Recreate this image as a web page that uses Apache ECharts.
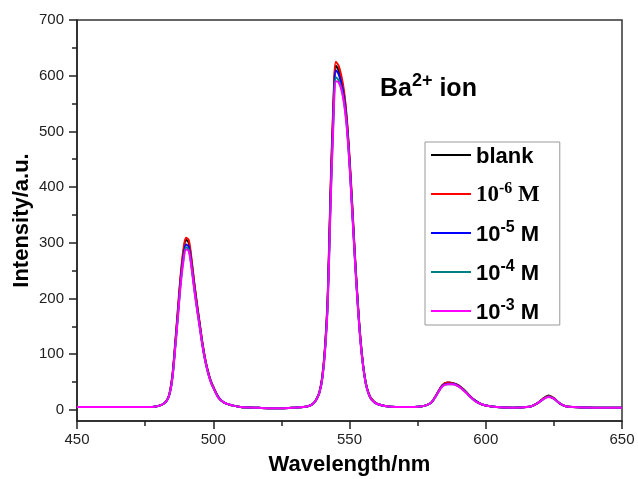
<!DOCTYPE html>
<html><head><meta charset="utf-8">
<script src="https://cdn.jsdelivr.net/npm/echarts@6/dist/echarts.min.js"></script>
<style>html,body{margin:0;padding:0;background:#fff}#c{width:638px;height:479px}</style>
</head><body><div id="c"></div>
<script>
const wavelengths = [
450,460,470,476,479,481,482,483,484,485,
486,487,488,489,490,491,492,493,494,495,
496,497,498,499,500,502,504,507,510,515,
520,525,530,533,535,536,537,538,539,540,
541,542,543,544,545,546,547,548,549,550,
551,552,553,554,555,556,557,558,560,563,
567,572,576,578,580,582,584,586,588,590,
592,594,596,598,600,604,610,615,617,619,
621,623,625,627,629,632,640,650];
const blank = [
5,5,5,5,6,9,12,17,30,60,
115,175,235,280,305,300,268,228,190,155,
120,92,70,53,41,22,13,8,5,4,
3,3,4,5,7,9,13,20,32,58,
110,200,380,530,618,610,592,566,520,450,
365,275,195,128,80,48,30,20,11,7,
5,5,6,8,13,28,44,49,48,44,
36,26,17,11,8,5,4,5,7,12,
20,26,21,12,7,5,4,4];
const m6 = [
5,5,5,5,6,9,12,17,31,62,
118,180,240,286,309,305,272,230,192,157,
122,93,71,54,42,22,13,8,5,4,
3,3,4,5,7,9,13,20,33,60,
113,205,390,540,625,618,600,572,525,455,
370,278,197,130,81,48,30,20,11,7,
5,5,6,8,13,28,44,49,48,44,
36,26,17,11,8,5,4,5,7,12,
20,25,21,12,7,5,4,4];
const m5 = [
5,5,5,5,6,9,12,17,29,58,
112,170,230,274,297,293,262,222,186,152,
118,90,69,52,40,22,13,8,5,4,
3,3,4,5,7,9,13,20,32,57,
108,196,372,520,610,603,586,560,515,446,
360,272,193,126,79,47,29,19,11,7,
5,5,6,8,13,27,43,47,47,43,
35,25,17,11,8,5,4,5,7,12,
19,24,20,12,7,5,4,4];
const m4 = [
5,5,5,5,6,9,12,17,29,57,
110,167,226,269,292,288,258,219,183,150,
117,89,68,52,40,21,13,8,5,4,
3,3,4,5,7,9,13,20,31,56,
106,192,364,510,597,592,578,553,510,442,
357,270,191,125,78,47,29,19,11,7,
5,5,6,8,13,27,42,46,46,42,
35,25,16,11,8,5,4,5,7,12,
19,24,20,12,7,5,4,4];
const m3 = [
5,5,5,5,6,9,12,17,29,56,
108,164,222,265,288,285,256,217,182,149,
116,89,68,51,40,21,13,8,5,4,
3,3,4,5,7,9,13,20,31,55,
104,188,358,503,590,588,575,550,507,440,
355,268,190,124,78,46,29,19,11,7,
5,5,6,8,13,27,42,46,46,42,
34,25,16,11,8,5,4,5,7,12,
19,23,20,12,7,5,4,4];
const seriesNames = ['blank','1e-6','1e-5','1e-4','1e-3'];
const seriesColors = ['#000000','#ff0000','#0000ff','#008080','#ff00ff'];
const seriesData = [blank,m6,m5,m4,m3];
const yMajorTicks = [0,100,200,300,400,500,600,700];
const yMinorTicks = [50,150,250,350,450,550,650];

const legendText = {
  'blank':'{b|blank}',
  '1e-6':'{t|10}{ts|-6}{t| M}',
  '1e-5':'{b|10}{s|-5}{b| M}',
  '1e-4':'{b|10}{s|-4}{b| M}',
  '1e-3':'{b|10}{s|-3}{b| M}'
};
const SANS = 'Liberation Sans, Arial, sans-serif';
const SERIF = 'Liberation Serif, Times New Roman, serif';
const chart = echarts.init(document.getElementById('c'), null, {renderer:'canvas'});
const axisCol = '#222';
chart.setOption({
  animation:false,
  backgroundColor:'#fff',
  title:{
    text:'{a|Ba}{s|2+}{a| ion}',
    left:380, top:70, padding:0,
    textStyle:{
      rich:{
        a:{fontFamily:SANS,fontWeight:'bold',fontSize:25,color:'#000',lineHeight:32,verticalAlign:'bottom'},
        s:{fontFamily:SANS,fontWeight:'bold',fontSize:18,color:'#000',lineHeight:32,verticalAlign:'bottom',padding:[0,0,12,0]}
      }
    }
  },
  grid:{left:77,right:16,top:20,bottom:58,outerBoundsMode:'none',containLabel:false,show:true,borderColor:'#333',borderWidth:1.5,backgroundColor:'transparent'},
  legend:{
    orient:'vertical', left:425, top:142,
    padding:[4,20,1,6],
    borderColor:'#999', borderWidth:1,
    itemWidth:40, itemHeight:2, icon:'rect',
    itemGap:13,
    data:seriesNames,
    formatter:n=>legendText[n],
    textStyle:{
      rich:{
        b:{fontFamily:SANS,fontWeight:'bold',fontSize:22,color:'#000',lineHeight:26,verticalAlign:'bottom'},
        s:{fontFamily:SANS,fontWeight:'bold',fontSize:16,color:'#000',lineHeight:26,verticalAlign:'bottom',padding:[0,0,10,0]},
        t:{fontFamily:SERIF,fontWeight:'bold',fontSize:23,color:'#000',lineHeight:26,verticalAlign:'bottom'},
        ts:{fontFamily:SERIF,fontWeight:'bold',fontSize:16,color:'#000',lineHeight:26,verticalAlign:'bottom',padding:[0,0,10,0]}
      }
    }
  },
  xAxis:{
    type:'value', min:450, max:650, interval:50,
    name:'Wavelength/nm', nameLocation:'middle', nameGap:33, nameMoveOverlap:false,
    nameTextStyle:{fontFamily:SANS,fontWeight:'bold',fontSize:22,color:'#000'},
    axisLine:{show:true,onZero:false,lineStyle:{color:axisCol,width:1.5}},
    axisTick:{show:true,inside:false,length:8,lineStyle:{color:axisCol,width:1.5}},
    minorTick:{show:true,splitNumber:2,length:5,lineStyle:{color:axisCol,width:1.5}},
    axisLabel:{margin:11,fontFamily:SANS,fontSize:15,color:'#222'},
    splitLine:{show:false}, minorSplitLine:{show:false}
  },
  yAxis:[{
    type:'value', min:-20, max:700,
    name:'Intensity/a.u.', nameLocation:'middle', nameGap:44, nameMoveOverlap:false,
    nameTextStyle:{fontFamily:SANS,fontWeight:'bold',fontSize:22,color:'#000'},
    axisLine:{show:true,onZero:false,lineStyle:{color:axisCol,width:1.5}},
    axisTick:{show:true,inside:false,length:8,customValues:yMajorTicks,lineStyle:{color:axisCol,width:1.5}},
    axisLabel:{margin:13,customValues:yMajorTicks,fontFamily:SANS,fontSize:15,color:'#222'},
    splitLine:{show:false}
  },{
    type:'value', min:-20, max:700, position:'left',
    axisLine:{show:false},
    axisTick:{show:true,inside:false,length:5,customValues:yMinorTicks,lineStyle:{color:axisCol,width:1.5}},
    axisLabel:{show:false},
    splitLine:{show:false}
  }],
  series:seriesNames.map((n,i)=>({
    name:n, type:'line', yAxisIndex:0,
    data:wavelengths.map((w,j)=>[w,seriesData[i][j]]),
    showSymbol:false, symbol:'none', smooth:0.3,
    lineStyle:{color:seriesColors[i],width:2},
    itemStyle:{color:seriesColors[i]}
  }))
});
</script></body></html>
